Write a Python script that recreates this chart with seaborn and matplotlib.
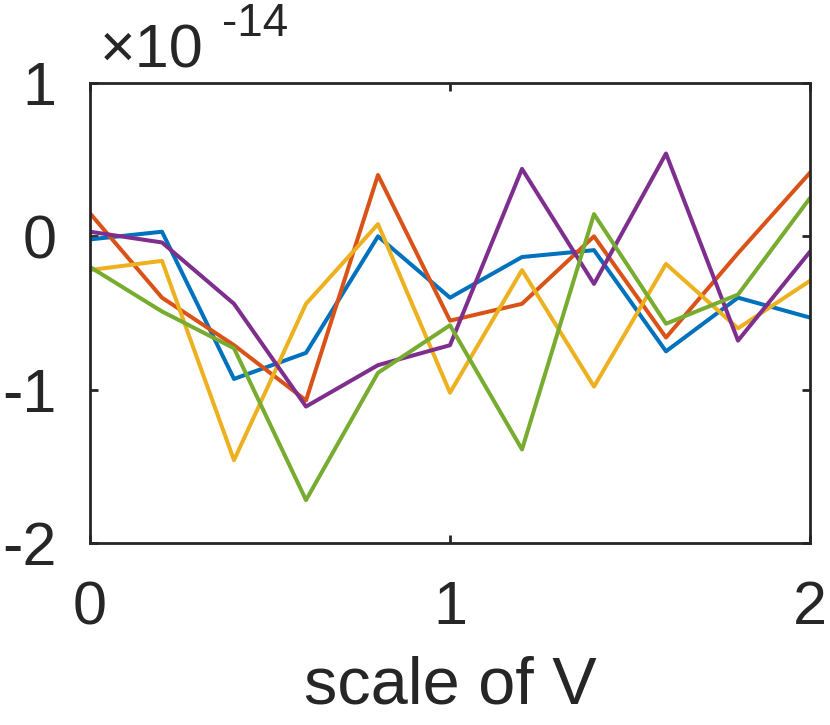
import numpy as np
import pandas as pd
import matplotlib
matplotlib.use("Agg")
import matplotlib.pyplot as plt
import seaborn as sns

# data (values in units of 1e-14)
scale_v = [0.0, 0.2, 0.4, 0.6, 0.8, 1.0, 1.2, 1.4, 1.6, 1.8, 2.0]
series_1 = [-0.02, 0.03, -0.93, -0.76, 0.00, -0.40, -0.135, -0.09, -0.75, -0.40, -0.53]
series_2 = [0.15, -0.40, -0.71, -1.07, 0.40, -0.55, -0.44, 0.00, -0.66, -0.11, 0.415]
series_3 = [-0.22, -0.16, -1.46, -0.44, 0.08, -1.02, -0.22, -0.98, -0.18, -0.60, -0.29]
series_4 = [0.03, -0.04, -0.44, -1.11, -0.84, -0.71, 0.44, -0.31, 0.54, -0.68, -0.10]
series_5 = [-0.20, -0.49, -0.73, -1.72, -0.89, -0.58, -1.39, 0.145, -0.57, -0.38, 0.25]
series_names = ["s1", "s2", "s3", "s4", "s5"]
x_ticks = [0, 1, 2]
y_ticks = [-2, -1, 0, 1]
y_tick_labels = ["-2", "-1", "0", "1"]
x_label = "scale of V"
exponent_label = "-14"

colors = ["#0072BD", "#D95319", "#EDB120", "#7E2F8E", "#77AC30"]

frames = []
for name, vals in zip(series_names, [series_1, series_2, series_3, series_4, series_5]):
    frames.append(pd.DataFrame({"x": scale_v, "y": vals, "series": name}))
df = pd.concat(frames, ignore_index=True)

sns.set_theme(style="ticks")
plt.rcParams["font.family"] = ["Liberation Sans", "DejaVu Sans"]
text_color = "#262626"

fig = plt.figure(figsize=(8.3, 7.25), dpi=100)
ax = fig.add_axes([90 / 830, 1 - 543 / 725, 720 / 830, 460 / 725])

sns.lineplot(data=df, x="x", y="y", hue="series", palette=colors,
             linewidth=2.9, ax=ax, legend=False, sort=False)

ax.set_xlim(0, 2)
ax.set_ylim(-2, 1)
ax.set_xticks(x_ticks)
ax.set_xticklabels([str(t) for t in x_ticks])
ax.set_yticks(y_ticks)
ax.set_yticklabels(y_tick_labels)

for s in ax.spines.values():
    s.set_visible(True)
    s.set_linewidth(2.0)
    s.set_color(text_color)

ax.tick_params(axis="both", direction="in", length=6, width=2.0,
               colors=text_color, labelsize=44, top=True, right=True)
ax.tick_params(axis="x", pad=27)
ax.tick_params(axis="y", pad=24)

ax.set_xlabel(x_label, fontsize=48, color=text_color, labelpad=13)
ax.set_ylabel("")

fig.text(100 / 830, 1 - 68 / 725, "×10", fontsize=44, color=text_color,
         ha="left", va="baseline")
fig.text(222 / 830, 1 - 36 / 725, exponent_label, fontsize=33, color=text_color,
         ha="left", va="baseline")

fig.savefig("out.png", dpi=100)
